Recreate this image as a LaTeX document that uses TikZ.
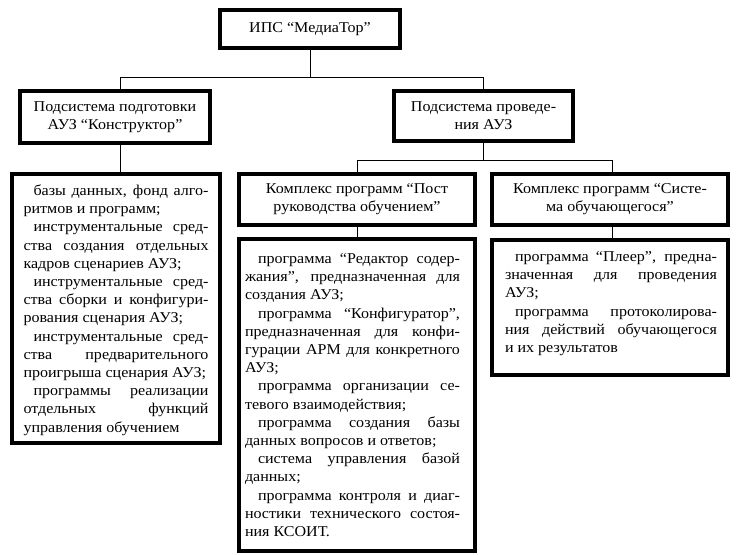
\documentclass[tikz,border=0pt]{standalone}
\usepackage{fontspec}
\setmainfont{Liberation Serif}[FakeStretch=1.07]
\newlength\bw
\newlength\ind
\newcommand\fs{\fontsize{15}{18.2}\selectfont}
% justified line
\newcommand\jl[1]{\makebox[\bw][s]{\strut#1}\\}
% indented justified line
\newcommand\ji[1]{\hspace*{\ind}\makebox[\dimexpr\bw-\ind\relax][s]{\strut#1}\\}
% left line
\newcommand\lft[1]{\makebox[\bw][l]{\strut#1}\\}
% last line (no break)
\newcommand\lz[1]{\makebox[\bw][l]{\strut#1}}
\begin{document}
\begin{tikzpicture}[x=1pt,y=-1pt,
  frame/.style={draw, line width=3.5pt, inner sep=0pt, align=center, font=\fs},
  conn/.style={line width=0.9pt}]
\useasboundingbox[fill=white] (0,0) rectangle (740,555);

% header boxes
\node[frame, minimum width=180pt, minimum height=38pt] (top) at (310,29)
  {ИПС “МедиаТор”};
\node[frame, minimum width=190pt, minimum height=52pt] (lsub) at (115,117)
  {\raisebox{2pt}{\parbox{185pt}{\centering Подсистема подготовки\\ АУЗ “Конструктор”}}};
\node[frame, minimum width=179pt, minimum height=50pt] (rsub) at (483.5,116)
  {Подсистема проведе-\\ния АУЗ};
\node[frame, minimum width=236pt, minimum height=51pt] (c1) at (357,199.5)
  {Комплекс программ “Пост\\руководства обучением”};
\node[frame, minimum width=236pt, minimum height=51pt] (c2) at (610,199.5)
  {Комплекс программ “Систе-\\ма обучающегося”};

% content boxes
\node[frame, minimum width=208pt, minimum height=269pt] (lbox) at (116,308.5)
  {\setlength\bw{185pt}\setlength\ind{10pt}%
   \parbox[c][251.5pt][t]{\bw}{\fs
   \ji{базы данных, фонд алго-}
   \lft{ритмов и программ;}
   \ji{инструментальные сред-}
   \jl{ства создания отдельных}
   \lft{кадров сценариев АУЗ;}
   \ji{инструментальные сред-}
   \jl{ства сборки и конфигури-}
   \lft{рования сценария АУЗ;}
   \ji{инструментальные сред-}
   \jl{ства предварительного}
   \lft{проигрыша сценария АУЗ;}
   \ji{программы реализации}
   \jl{отдельных функций}
   \lz{управления обучением}}};

\node[frame, minimum width=236pt, minimum height=312pt] (p1) at (357,395)
  {\setlength\bw{215pt}\setlength\ind{13pt}%
   \parbox[c][288.5pt][t]{\bw}{\fs
   \ji{программа “Редактор содер-}
   \jl{жания”, предназначенная для}
   \lft{создания АУЗ;}
   \ji{программа “Конфигуратор”,}
   \jl{предназначенная для конфи-}
   \jl{гурации АРМ для конкретного}
   \lft{АУЗ;}
   \ji{программа организации се-}
   \lft{тевого взаимодействия;}
   \ji{программа создания базы}
   \lft{данных вопросов и ответов;}
   \ji{система управления базой}
   \lft{данных;}
   \ji{программа контроля и диаг-}
   \jl{ностики технического состоя-}
   \lz{ния КСОИТ.}}\hspace*{9pt}};

\node[frame, minimum width=236pt, minimum height=135pt] (p2) at (610,307.5)
  {\setlength\bw{212pt}\setlength\ind{10pt}%
   \hspace*{2pt}\parbox[c][117.5pt][t]{\bw}{\fs
   \ji{программа “Плеер”, предна-}
   \jl{значенная для проведения}
   \lft{АУЗ;}
   \ji{программа протоколирова-}
   \jl{ния действий обучающегося}
   \lz{и их результатов}}};

% junction coordinates
\coordinate (j0) at (310,77);
\coordinate (jl) at (120,77);
\coordinate (jr) at (483.5,77);
\coordinate (k0) at (483.5,160);
\coordinate (kl) at (357,160);
\coordinate (kr) at (612,160);

% connectors
\draw[conn] (top.south) -- (j0);
\draw[conn] (jl) -- (jr);
\draw[conn] (jl) -- (jl |- lsub.north);
\draw[conn] (jr) -- (rsub.north);
\draw[conn] (lsub.south -| jl) -- (lbox.north -| jl);
\draw[conn] (rsub.south) -- (k0);
\draw[conn] (kl) -- (kr);
\draw[conn] (kl) -- (c1.north);
\draw[conn] (kr) -- (kr |- c2.north);
\draw[conn] (c1.south) -- (p1.north);
\draw[conn] (c2.south -| kr) -- (p2.north -| kr);
\end{tikzpicture}
\end{document}
